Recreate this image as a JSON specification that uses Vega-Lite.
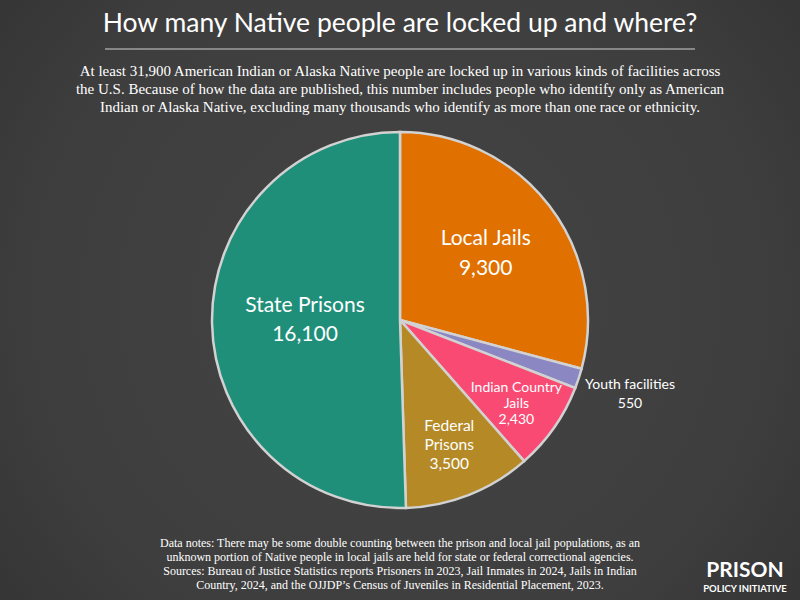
{
  "$schema": "https://vega.github.io/schema/vega-lite/v6.json",
  "width": 800,
  "height": 560,
  "autosize": {"type": "none"},
  "padding": {"top": 40, "left": 0, "right": 0, "bottom": 0},
  "background": "#3a3a3a",
  "config": {"view": {"stroke": null}},
  "title": {
    "text": "How many Native people are locked up and where?",
    "subtitle": [
      "At least 31,900 American Indian or Alaska Native people are locked up in various kinds of facilities across",
      "the U.S. Because of how the data are published, this number includes people who identify only as American",
      "Indian or Alaska Native, excluding many thousands who identify as more than one race or ethnicity."
    ],
    "anchor": "middle",
    "frame": "group",
    "font": "Lato",
    "fontSize": 26.5,
    "fontWeight": "normal",
    "color": "#ffffff",
    "subtitleFont": "Liberation Serif",
    "subtitleFontSize": 15,
    "subtitleColor": "#ffffff",
    "subtitleLineHeight": 18,
    "subtitlePadding": 27,
    "offset": -115
  },
  "datasets": {
    "pie": [
      {"facility": "Local Jails", "count": 9300, "rank": 1, "label": "Local Jails\n9,300"},
      {"facility": "Youth facilities", "count": 550, "rank": 2, "label": "Youth facilities\n550"},
      {"facility": "Indian Country Jails", "count": 2430, "rank": 3, "label": "Indian Country\nJails\n2,430"},
      {"facility": "Federal Prisons", "count": 3500, "rank": 4, "label": "Federal\nPrisons\n3,500"},
      {"facility": "State Prisons", "count": 16100, "rank": 5, "label": "State Prisons\n16,100"}
    ]
  },
  "layer": [
    {
      "data": {"values": [{"part": "backdrop"}]},
      "mark": {
        "type": "rect",
        "fill": {
          "gradient": "radial",
          "x1": 0.5, "y1": 0.5, "r1": 0,
          "x2": 0.5, "y2": 0.5, "r2": 0.75,
          "stops": [
            {"offset": 0, "color": "#444444"},
            {"offset": 0.6, "color": "#3e3e3e"},
            {"offset": 1, "color": "#2f2f2f"}
          ]
        }
      },
      "encoding": {
        "x": {"value": 0},
        "x2": {"value": 800},
        "y": {"value": -40},
        "y2": {"value": 560}
      }
    },
    {
      "data": {"name": "pie"},
      "mark": {"type": "arc", "radius": 188, "stroke": "#d2d2d2", "strokeWidth": 2.5},
      "encoding": {
        "theta": {"field": "count", "type": "quantitative", "stack": true},
        "order": {"field": "rank", "type": "quantitative"},
        "color": {
          "field": "facility",
          "type": "nominal",
          "scale": {
            "domain": ["Local Jails", "Youth facilities", "Indian Country Jails", "Federal Prisons", "State Prisons"],
            "range": ["#e07000", "#8b87c2", "#f94a74", "#b58a26", "#1f8f7a"]
          },
          "legend": null
        }
      }
    },
    {
      "data": {"name": "pie"},
      "mark": {"type": "text", "radius": 108, "dy": -15, "font": "Lato", "fontSize": 21, "color": "#ffffff", "lineBreak": "\n", "lineHeight": 30, "baseline": "middle", "align": "center"},
      "encoding": {
        "theta": {"field": "count", "type": "quantitative", "stack": true},
        "order": {"field": "rank", "type": "quantitative"},
        "text": {"condition": {"test": "datum.facility === 'Local Jails'", "field": "label"}, "value": ""}
      }
    },
    {
      "data": {"name": "pie"},
      "mark": {"type": "text", "radius": 95, "dy": -15, "font": "Lato", "fontSize": 21, "color": "#ffffff", "lineBreak": "\n", "lineHeight": 29, "baseline": "middle", "align": "center"},
      "encoding": {
        "theta": {"field": "count", "type": "quantitative", "stack": true},
        "order": {"field": "rank", "type": "quantitative"},
        "text": {"condition": {"test": "datum.facility === 'State Prisons'", "field": "label"}, "value": ""}
      }
    },
    {
      "data": {"name": "pie"},
      "mark": {"type": "text", "radius": 142, "dy": -13, "font": "Lato", "fontSize": 14, "color": "#ffffff", "lineBreak": "\n", "lineHeight": 16, "baseline": "middle", "align": "center"},
      "encoding": {
        "theta": {"field": "count", "type": "quantitative", "stack": true},
        "order": {"field": "rank", "type": "quantitative"},
        "text": {"condition": {"test": "datum.facility === 'Indian Country Jails'", "field": "label"}, "value": ""}
      }
    },
    {
      "data": {"name": "pie"},
      "mark": {"type": "text", "radius": 134, "dy": -19, "font": "Lato", "fontSize": 15.5, "color": "#ffffff", "lineBreak": "\n", "lineHeight": 19, "baseline": "middle", "align": "center"},
      "encoding": {
        "theta": {"field": "count", "type": "quantitative", "stack": true},
        "order": {"field": "rank", "type": "quantitative"},
        "text": {"condition": {"test": "datum.facility === 'Federal Prisons'", "field": "label"}, "value": ""}
      }
    },
    {
      "data": {"name": "pie"},
      "mark": {"type": "text", "radius": 242, "dy": -10, "font": "Lato", "fontSize": 14, "color": "#ffffff", "lineBreak": "\n", "lineHeight": 19, "baseline": "middle", "align": "center"},
      "encoding": {
        "theta": {"field": "count", "type": "quantitative", "stack": true},
        "order": {"field": "rank", "type": "quantitative"},
        "text": {"condition": {"test": "datum.facility === 'Youth facilities'", "field": "label"}, "value": ""}
      }
    },
    {
      "data": {"values": [{"part": "rule"}]},
      "mark": {"type": "rule", "color": "#a0a0a0", "strokeWidth": 1.5},
      "encoding": {
        "x": {"value": 105},
        "x2": {"value": 695},
        "y": {"value": 9}
      }
    },
    {
      "data": {"values": [{"note": "Data notes: There may be some double counting between the prison and local jail populations, as an\nunknown portion of Native people in local jails are held for state or federal correctional agencies.\nSources: Bureau of Justice Statistics reports Prisoners in 2023, Jail Inmates in 2024, Jails in Indian\nCountry, 2024, and the OJJDP’s Census of Juveniles in Residential Placement, 2023."}]},
      "mark": {"type": "text", "font": "Liberation Serif", "fontSize": 12, "color": "#ffffff", "lineBreak": "\n", "lineHeight": 14, "baseline": "alphabetic", "align": "center"},
      "encoding": {
        "x": {"value": 400},
        "y": {"value": 507},
        "text": {"field": "note"}
      }
    },
    {
      "data": {"values": [{"logo": "PRISON"}]},
      "mark": {"type": "text", "font": "Lato", "fontSize": 21, "fontWeight": "bold", "letterSpacing": 1, "color": "#ffffff", "baseline": "alphabetic", "align": "center"},
      "encoding": {
        "x": {"value": 745},
        "y": {"value": 537},
        "text": {"field": "logo"}
      }
    },
    {
      "data": {"values": [{"logo": "POLICY INITIATIVE"}]},
      "mark": {"type": "text", "font": "Lato", "fontSize": 9.5, "fontWeight": "bold", "color": "#ffffff", "baseline": "alphabetic", "align": "center"},
      "encoding": {
        "x": {"value": 745},
        "y": {"value": 552},
        "text": {"field": "logo"}
      }
    }
  ]
}
